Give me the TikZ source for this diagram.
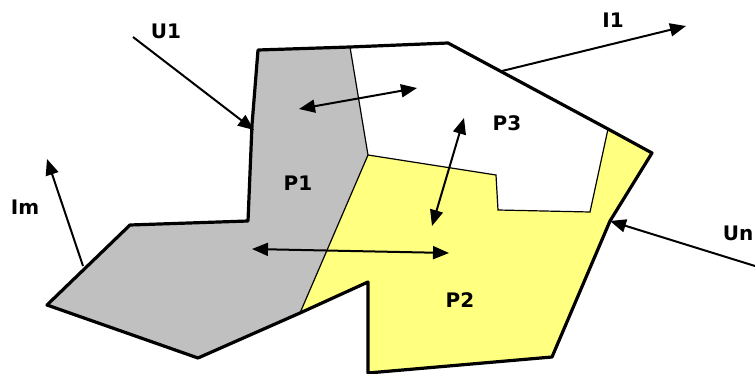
\documentclass[tikz,border=0pt]{standalone}
\usepackage{fontspec}
\setmainfont{DejaVu Sans}
\usetikzlibrary{arrows.meta}
\definecolor{partgray}{RGB}{192,192,192}
\definecolor{partyellow}{RGB}{255,255,128}

\begin{document}
\begin{tikzpicture}[x=0.5pt,y=-0.5pt,
  flow/.style={line width=1pt,-{Triangle[length=8pt,width=6.5pt]}},
  swap/.style={line width=1pt,{Triangle[length=8pt,width=6.5pt]}-{Triangle[length=8pt,width=6.5pt]}},
  lab/.style={font=\bfseries\fontsize{10}{12}\selectfont,inner sep=0pt}]
\useasboundingbox (0,0) rectangle (755,374);
% outline corners
\coordinate (a) at (258,50); \coordinate (b) at (350,47); \coordinate (c) at (448,43);
\coordinate (d) at (608,129); \coordinate (e) at (652,153); \coordinate (f) at (610,221);
\coordinate (g) at (552,357); \coordinate (h) at (368,373); \coordinate (i) at (368,282);
\coordinate (j) at (300,313); \coordinate (k) at (198,358); \coordinate (l) at (47,305);
\coordinate (m) at (130,225); \coordinate (n) at (248,221);
% inner corners
\coordinate (q) at (368,155); \coordinate (r) at (496,175);
\coordinate (s) at (498,210); \coordinate (t) at (590,212);

\fill[partgray] (a) -- (b) -- (q) -- (j) -- (k) -- (l) -- (m) -- (n) -- (252,125) -- cycle; % P1
\fill[partyellow] (q) -- (r) -- (s) -- (t) -- (d) -- (e) -- (f) -- (g) -- (h) -- (i) -- (j) -- cycle; % P2
\draw[line width=0.6pt] (b) -- (q) -- (j); % P1 border
\draw[line width=0.6pt] (q) -- (r) -- (s) -- (t) -- (d); % P3 border
\draw[line width=1.6pt,line join=round] (a) -- (b) -- (c) -- (d) -- (e) -- (f) -- (g) -- (h) -- (i) -- (j) -- (k) -- (l) -- (m) -- (n) -- (252,125) -- cycle; % outline

% labels
\node[lab] (p1) at (298,183) {P1};
\node[lab] (p2) at (460,300) {P2};
\node[lab] (p3) at (507,123) {P3};
\node[lab] (u1) at (166,31) {U1};
\node[lab] (i1) at (613,20) {I1};
\node[lab] (im) at (25,207) {Im};
\node[lab] (un) at (738,233) {Un};

% inputs and outputs
\coordinate (u1s) at (133,37); \coordinate (u1e) at (254,130);
\coordinate (i1s) at (502,71); \coordinate (i1e) at (686,26);
\coordinate (ims) at (83,266); \coordinate (ime) at (47,159);
\coordinate (uns) at (755,266);
\draw[flow] (u1s) -- (u1e);
\draw[flow] (i1s) -- (i1e);
\draw[flow] (ims) -- (ime);
\draw[flow] (uns) -- (f);

% exchanges between parts
\coordinate (x1) at (299,109); \coordinate (x3) at (417,88);
\coordinate (y3) at (464,118); \coordinate (y2) at (432,226);
\coordinate (z1) at (252,249); \coordinate (z2) at (449,253);
\draw[swap] (x1) -- (x3);
\draw[swap] (y3) -- (y2);
\draw[swap] (z1) -- (z2);
\end{tikzpicture}
\end{document}
